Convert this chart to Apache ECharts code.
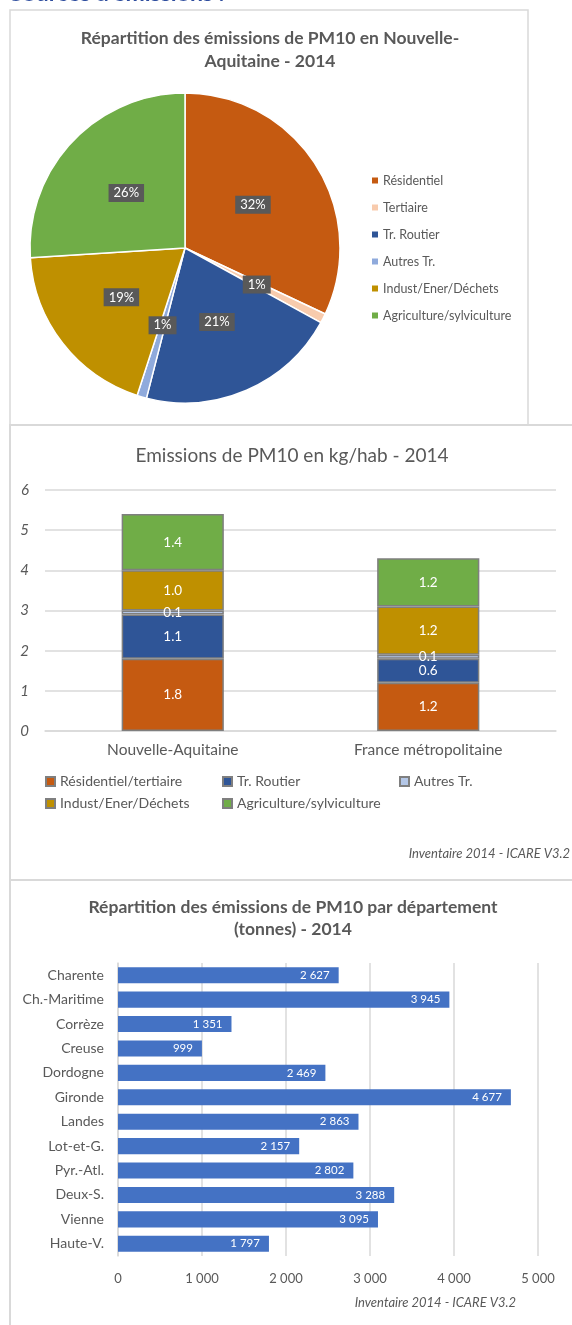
<!DOCTYPE html>
<html>
<head>
<meta charset="utf-8">
<script src="https://cdn.jsdelivr.net/npm/echarts@6/dist/echarts.min.js"></script>
<style>
  html, body { margin: 0; padding: 0; background: #fff; }
  #chart { width: 572px; height: 1325px; }
</style>
</head>
<body>
<div id="chart"></div>
<script>
const FONT = 'Lato, "Open Sans", sans-serif';
const TEXT = '#595959';
const RULE = '#D9D9D9';

// Pie: share of PM10 emissions by sector (%)
const pieSectors = ['Résidentiel', 'Tertiaire', 'Tr. Routier', 'Autres Tr.', 'Indust/Ener/Déchets', 'Agriculture/sylviculture'];
const pieShares = [32, 1, 21, 1, 19, 26];
const pieColors = ['#C55A11', '#F8CBAD', '#2F5597', '#8FAADC', '#BF9000', '#70AD47'];

// Stacked bars: kg per inhabitant
const zones = ['Nouvelle-Aquitaine', 'France métropolitaine'];
const stackSectors = ['Résidentiel/tertiaire', 'Tr. Routier', 'Autres Tr.', 'Indust/Ener/Déchets', 'Agriculture/sylviculture'];
const kgResTert = [1.8, 1.2];
const kgRoutier = [1.1, 0.6];
const kgAutres = [0.1, 0.1];
const kgIndust = [1.0, 1.2];
const kgAgri = [1.4, 1.2];
const stackColors = ['#C55A11', '#2F5597', '#B4C7E7', '#BF9000', '#70AD47'];

// Horizontal bars: tonnes per département
const departements = ['Charente', 'Ch.-Maritime', 'Corrèze', 'Creuse', 'Dordogne', 'Gironde', 'Landes', 'Lot-et-G.', 'Pyr.-Atl.', 'Deux-S.', 'Vienne', 'Haute-V.'];
const tonnes = [2627, 3945, 1351, 999, 2469, 4677, 2863, 2157, 2802, 3288, 3095, 1797];

const SOURCE = 'Inventaire 2014 - ICARE V3.2';

const thousands = n => String(n).replace(/\B(?=(\d{3})+(?!\d))/g, '\u00a0');

const stackValues = [kgResTert, kgRoutier, kgAutres, kgIndust, kgAgri];

const chart = echarts.init(document.getElementById('chart'), null, { renderer: 'canvas' });

function label(text, x, y, font, align) {
  return {
    type: 'text', x: x, y: y, silent: true,
    style: { text: text, font: font, fill: TEXT, align: align || 'center', verticalAlign: 'middle' }
  };
}

const option = {
  animation: false,
  textStyle: { fontFamily: FONT },
  graphic: [
    { type: 'rect', shape: { x: 10, y: 10, width: 518, height: 415 }, style: { fill: 'none', stroke: RULE, lineWidth: 1.5 }, silent: true },
    { type: 'rect', shape: { x: 10, y: 425, width: 600, height: 455 }, style: { fill: 'none', stroke: RULE, lineWidth: 2 }, silent: true },
    { type: 'rect', shape: { x: 10, y: 880, width: 600, height: 480 }, style: { fill: 'none', stroke: RULE, lineWidth: 2 }, silent: true },
    {
      type: 'text', x: 10, y: 5, silent: true,
      style: { text: 'Sources d\u2019émissions :', font: 'bold 23px ' + FONT, fill: '#2E4D9E', align: 'left', verticalAlign: 'bottom' }
    },
    label('Répartition des émissions de PM10 en Nouvelle-', 270, 38, 'bold 17.5px ' + FONT),
    label('Aquitaine - 2014', 270, 61, 'bold 17.5px ' + FONT),
    label('Emissions de PM10 en kg/hab - 2014', 292, 456, '19px ' + FONT),
    label(SOURCE, 570, 854, 'italic 13px ' + FONT, 'right'),
    label('Répartition des émissions de PM10 par département', 293, 907, 'bold 17.5px ' + FONT),
    label('(tonnes) - 2014', 293, 929, 'bold 17.5px ' + FONT),
    label(SOURCE, 516, 1303, 'italic 13px ' + FONT, 'right')
  ],
  legend: [
    {
      orient: 'vertical', left: 367, top: 168,
      icon: 'rect', itemWidth: 6, itemHeight: 6, itemGap: 12,
      selectedMode: false,
      textStyle: { color: TEXT, fontSize: 12.5, lineHeight: 15, fontFamily: FONT },
      data: pieSectors.map((n, i) => ({ name: n, itemStyle: { color: pieColors[i], borderWidth: 0 } }))
    },
    {
      orient: 'vertical', left: 40, top: 769,
      icon: 'rect', itemWidth: 9, itemHeight: 9, itemGap: 7,
      selectedMode: false,
      textStyle: { color: TEXT, fontSize: 14, lineHeight: 15, fontFamily: FONT },
      data: ['Résidentiel/tertiaire', 'Indust/Ener/Déchets']
    },
    {
      orient: 'vertical', left: 217, top: 769,
      icon: 'rect', itemWidth: 9, itemHeight: 9, itemGap: 7,
      selectedMode: false,
      textStyle: { color: TEXT, fontSize: 14, lineHeight: 15, fontFamily: FONT },
      data: ['Tr. Routier', 'Agriculture/sylviculture']
    },
    {
      orient: 'vertical', left: 394, top: 769,
      icon: 'rect', itemWidth: 9, itemHeight: 9, itemGap: 7,
      selectedMode: false,
      textStyle: { color: TEXT, fontSize: 14, lineHeight: 15, fontFamily: FONT },
      data: ['Autres Tr.']
    }
  ],
  grid: [
    { left: 45, right: 16, top: 490, height: 241 },
    { left: 118, right: 34, top: 963, height: 293 }
  ],
  xAxis: [
    {
      gridIndex: 0, type: 'category', data: zones,
      axisLine: { lineStyle: { color: RULE, width: 1.5 } },
      axisTick: { show: false },
      axisLabel: { color: TEXT, fontSize: 15.5, margin: 11, fontFamily: FONT }
    },
    {
      gridIndex: 1, type: 'value', min: 0, max: 5000, interval: 1000,
      axisLine: { show: false }, axisTick: { show: false },
      splitLine: { lineStyle: { color: RULE, width: 1.5 } },
      axisLabel: { color: TEXT, fontSize: 13, margin: 16, fontFamily: FONT, formatter: v => thousands(v) }
    }
  ],
  yAxis: [
    {
      gridIndex: 0, type: 'value', min: 0, max: 6, interval: 1,
      axisLine: { show: false }, axisTick: { show: false },
      splitLine: { lineStyle: { color: RULE, width: 1.5 } },
      axisLabel: { color: TEXT, fontSize: 15, fontStyle: 'italic', margin: 16, fontFamily: FONT }
    },
    {
      gridIndex: 1, type: 'category', data: departements, inverse: true,
      axisLine: { lineStyle: { color: RULE, width: 1.5 } },
      axisTick: { show: false },
      axisLabel: { color: TEXT, fontSize: 14, margin: 14, fontFamily: FONT }
    }
  ],
  series: [
    {
      type: 'pie', name: 'Répartition', center: [185, 248], radius: 155,
      startAngle: 90, clockwise: true, silent: true,
      itemStyle: { borderColor: '#fff', borderWidth: 1.5 },
      label: {
        position: 'inside', formatter: '{c}%', color: '#fff', fontSize: 13, fontFamily: FONT,
        backgroundColor: '#595959', padding: [3, 5, 2, 5]
      },
      labelLine: { show: false },
      data: pieSectors.map((n, i) => ({ name: n, value: pieShares[i], itemStyle: { color: pieColors[i] } }))
    },
    ...stackSectors.map((n, i) => ({
      type: 'bar', name: n, xAxisIndex: 0, yAxisIndex: 0, stack: 'kg',
      barWidth: '40%', silent: true,
      itemStyle: { color: stackColors[i], borderColor: '#7F7F7F', borderWidth: 1.5 },
      label: {
        show: true, position: 'inside', color: '#fff', fontSize: 13.5, fontFamily: FONT,
        formatter: p => p.value.toFixed(1)
      },
      data: stackValues[i]
    })),
    {
      type: 'bar', name: 'Tonnes', xAxisIndex: 1, yAxisIndex: 1,
      barCategoryGap: '34%', silent: true,
      itemStyle: { color: '#4472C4' },
      label: {
        show: true, position: 'insideRight', color: '#fff', fontSize: 11.5, fontFamily: FONT,
        distance: 9, formatter: p => thousands(p.value)
      },
      data: tonnes
    }
  ]
};

chart.setOption(option);
</script>
</body>
</html>
